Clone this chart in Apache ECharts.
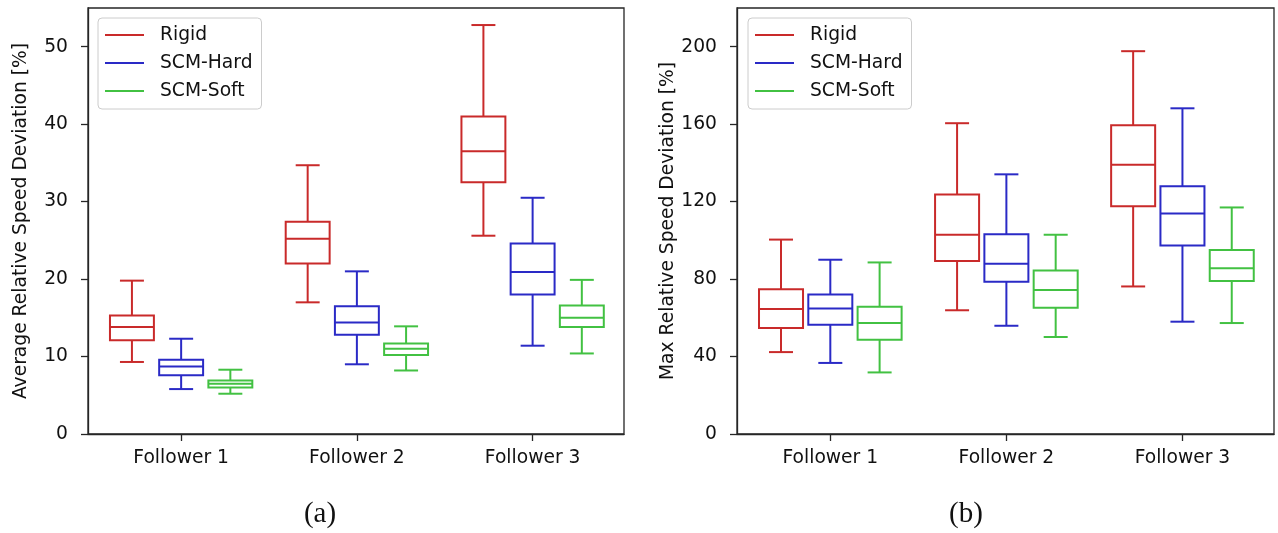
<!DOCTYPE html>
<html>
<head>
<meta charset="utf-8">
<title>Relative Speed Deviation</title>
<script src="https://cdn.jsdelivr.net/npm/echarts@6/dist/echarts.min.js"></script>
<style>
  html, body { margin: 0; padding: 0; background: #ffffff; }
  #chart { width: 1278px; height: 533px; }
</style>
</head>
<body>
<div id="chart"></div>
<script>
// Categories and series
const followers = ['Follower 1', 'Follower 2', 'Follower 3'];
const seriesNames = ['Rigid', 'SCM-Hard', 'SCM-Soft'];
const seriesColors = ['#c92a2a', '#2a2ac6', '#42c142'];

// (a) Average relative speed deviation [%], per follower: [min, Q1, median, Q3, max]
const avgRigid = [[9.3, 12.1, 13.8, 15.3, 19.8], [17.0, 22.0, 25.2, 27.4, 34.7], [25.6, 32.5, 36.5, 41.0, 52.8]];
const avgHard  = [[5.8, 7.6, 8.7, 9.6, 12.3], [9.0, 12.8, 14.4, 16.5, 21.0], [11.4, 18.0, 20.9, 24.6, 30.5]];
const avgSoft  = [[5.2, 6.0, 6.5, 6.9, 8.3], [8.2, 10.2, 11.0, 11.7, 13.9], [10.4, 13.8, 15.0, 16.6, 19.9]];

// (b) Max relative speed deviation [%], per follower: [min, Q1, median, Q3, max]
const maxRigid = [[42.3, 54.7, 64.5, 74.8, 100.4], [63.9, 89.4, 102.9, 123.7, 160.5], [76.2, 117.6, 139.0, 159.5, 197.7]];
const maxHard  = [[36.7, 56.4, 64.8, 72.1, 90.0], [55.9, 78.6, 87.9, 103.1, 134.1], [58.0, 97.3, 113.9, 128.0, 168.2]];
const maxSoft  = [[31.8, 48.7, 57.3, 65.7, 88.6], [50.1, 65.2, 74.4, 84.5, 102.9], [57.3, 79.0, 85.6, 95.0, 117.0]];

// Tick values
const followerTicks = [1, 2, 3];
const avgTicks = [0, 10, 20, 30, 40, 50];
const maxTicks = [0, 40, 80, 120, 160, 200];

// Box geometry in x-axis units
const groupOffsets = [-0.28, 0, 0.28];
const BOX_W = 0.25;
const CAP_W = 0.125;
const LINE_W = 2;

const FONT = 'DejaVu Sans';
const FONT_SIZE = 18.7;
const AXIS_COLOR = '#262626';
const TEXT_COLOR = '#111111';

function boxRenderer(offset) {
  return function (params, api) {
    const xc = api.value(0) + offset;
    const vals = [1, 2, 3, 4, 5].map(function (d) { return api.value(d); });
    const y = vals.map(function (v) { return api.coord([xc, v])[1]; });
    const xl = api.coord([xc - BOX_W / 2, 0])[0];
    const xr = api.coord([xc + BOX_W / 2, 0])[0];
    const cl = api.coord([xc - CAP_W / 2, 0])[0];
    const cr = api.coord([xc + CAP_W / 2, 0])[0];
    const cx = api.coord([xc, 0])[0];
    const color = api.visual('color');
    const lineStyle = { stroke: color, lineWidth: LINE_W, lineCap: 'square', fill: null };
    const line = function (x1, y1, x2, y2, cap) {
      return {
        type: 'line',
        shape: { x1: x1, y1: y1, x2: x2, y2: y2 },
        style: Object.assign({}, lineStyle, cap ? { lineCap: cap } : {})
      };
    };
    return {
      type: 'group',
      children: [
        line(cx, y[3], cx, y[4], 'butt'),
        line(cx, y[1], cx, y[0], 'butt'),
        line(cl, y[4], cr, y[4]),
        line(cl, y[0], cr, y[0]),
        {
          type: 'rect',
          shape: { x: xl, y: y[3], width: xr - xl, height: y[1] - y[3] },
          style: { stroke: color, lineWidth: LINE_W, fill: 'none', lineJoin: 'miter' }
        },
        line(xl, y[2], xr, y[2], 'butt')
      ]
    };
  };
}

function buildSeries(groups, gridIdx) {
  return groups.map(function (stats, s) {
    return {
      name: seriesNames[s],
      type: 'custom',
      xAxisIndex: gridIdx,
      yAxisIndex: gridIdx,
      itemStyle: { color: seriesColors[s] },
      renderItem: boxRenderer(groupOffsets[s]),
      encode: { x: 0, y: [1, 2, 3, 4, 5] },
      data: stats.map(function (row, i) { return [followerTicks[i]].concat(row); }),
      silent: true
    };
  });
}

function xAxisFor(gridIdx) {
  return {
    type: 'value',
    gridIndex: gridIdx,
    min: 0.47,
    max: 3.52,
    splitLine: { show: false },
    axisLine: { show: true, lineStyle: { color: AXIS_COLOR, width: 1.3 } },
    axisTick: { show: true, length: 7, customValues: followerTicks, lineStyle: { color: AXIS_COLOR, width: 1.3 } },
    axisLabel: {
      show: true,
      customValues: followerTicks,
      margin: 15,
      fontFamily: FONT,
      fontSize: FONT_SIZE,
      color: TEXT_COLOR,
      formatter: function (v) { return followers[Math.round(v) - 1]; }
    }
  };
}

function yAxisFor(gridIdx, ticks, maxVal, title) {
  return {
    type: 'value',
    gridIndex: gridIdx,
    min: 0,
    max: maxVal,
    name: title,
    nameLocation: 'middle',
    nameGap: 57,
    nameRotate: 90,
    nameTextStyle: { fontFamily: FONT, fontSize: FONT_SIZE, color: TEXT_COLOR },
    splitLine: { show: false },
    axisLine: { show: true, lineStyle: { color: AXIS_COLOR, width: 1.3 } },
    axisTick: { show: true, length: 7, customValues: ticks, lineStyle: { color: AXIS_COLOR, width: 1.3 } },
    axisLabel: {
      show: true,
      customValues: ticks,
      margin: 20,
      fontFamily: FONT,
      fontSize: FONT_SIZE,
      color: TEXT_COLOR
    }
  };
}

function legendFor(left) {
  return {
    orient: 'vertical',
    left: left,
    top: 18,
    icon: 'rect',
    itemWidth: 39,
    itemHeight: 2,
    itemGap: 8,
    padding: [7, 9, 8, 7],
    backgroundColor: '#ffffff',
    borderColor: '#cccccc',
    borderWidth: 1,
    borderRadius: 4,
    selectedMode: false,
    textStyle: { fontFamily: FONT, fontSize: FONT_SIZE, color: TEXT_COLOR, lineHeight: 20, padding: [0, 0, 0, 11] },
    data: seriesNames.map(function (n, i) { return { name: n, itemStyle: { color: seriesColors[i] } }; })
  };
}

const chart = echarts.init(document.getElementById('chart'), null, { renderer: 'canvas' });

chart.setOption({
  animation: false,
  backgroundColor: '#ffffff',
  grid: [
    { left: 88, right: 654, top: 8, bottom: 99, show: true, borderColor: AXIS_COLOR, borderWidth: 1.3 },
    { left: 737, right: 4, top: 8, bottom: 99, show: true, borderColor: AXIS_COLOR, borderWidth: 1.3 }
  ],
  xAxis: [xAxisFor(0), xAxisFor(1)],
  yAxis: [
    yAxisFor(0, avgTicks, 55, 'Average Relative Speed Deviation [%]'),
    yAxisFor(1, maxTicks, 220, 'Max Relative Speed Deviation [%]')
  ],
  legend: [legendFor(98), legendFor(748)],
  series: buildSeries([avgRigid, avgHard, avgSoft], 0).concat(buildSeries([maxRigid, maxHard, maxSoft], 1)),
  graphic: [
    { type: 'text', x: 320, y: 514, style: { text: '(a)', font: '29px "Liberation Serif"', fill: '#111', textAlign: 'center', textVerticalAlign: 'middle' } },
    { type: 'text', x: 966, y: 514, style: { text: '(b)', font: '29px "Liberation Serif"', fill: '#111', textAlign: 'center', textVerticalAlign: 'middle' } }
  ]
});
</script>
</body>
</html>
